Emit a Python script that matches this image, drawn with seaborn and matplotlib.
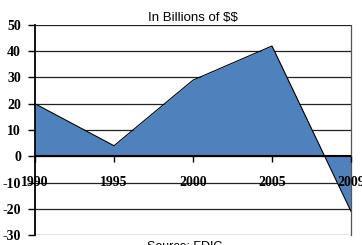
import matplotlib
matplotlib.use("Agg")
import matplotlib.pyplot as plt
import seaborn as sns
import pandas as pd

years = ["1990", "1995", "2000", "2005", "2009"]
values = [20, 4, 29, 42, -21]
y_ticks = [50, 40, 30, 20, 10, 0, -10, -20, -30]
title = "In Billions of $$"
source = "Source: FDIC"

sns.set_theme(style="white")
plt.rcParams['font.family'] = ['Liberation Sans', 'DejaVu Sans']
plt.rcParams['text.parse_math'] = False
plt.rcParams['text.color'] = 'black'
plt.rcParams['xtick.color'] = 'black'
plt.rcParams['ytick.color'] = 'black'

df = pd.DataFrame({"pos": range(len(years)), "value": values})

fig = plt.figure(figsize=(3.62, 2.45), dpi=100)
ax = fig.add_axes([35/362, (245-235)/245, (351-35)/362, (235-25)/245])

ax.fill_between(df["pos"], df["value"], 0, color="#4F81BD", linewidth=0, zorder=2)
sns.lineplot(data=df, x="pos", y="value", ax=ax, color="black", linewidth=0.8, zorder=3)

ax.spines["bottom"].set_position(("data", 0))
ax.spines["bottom"].set_visible(False)

ax.set_xlim(0, len(years) - 1)
ax.set_ylim(-30, 50)
ax.set_yticks(y_ticks)
ax.set_yticklabels([str(v) for v in y_ticks], family="Liberation Serif", fontweight="bold", fontsize=10)
for v in y_ticks:
    ax.axhline(v, color="#222222", linewidth=0.9, zorder=1)
ax.axhline(0, color="black", linewidth=1.5, zorder=4)

ax.set_xticks(list(df["pos"]))
ax.set_xticklabels(years, family="Liberation Serif", fontweight="bold", fontsize=10)
ax.tick_params(axis="x", direction="out", length=4, width=1, pad=10, color="black", bottom=True, labelcolor="black")
ax.tick_params(axis="y", direction="out", length=5, width=1, pad=5, color="black", left=True, labelcolor="black")
ax.xaxis.set_zorder(6)

ax.spines["left"].set_color("black")
ax.spines["left"].set_linewidth(1.3)
ax.spines["right"].set_color("#555555")
ax.spines["right"].set_linewidth(0.9)
ax.spines["top"].set_visible(False)
ax.set_xlabel("")
ax.set_ylabel("")
ax.set_title(title, fontsize=9.5, pad=3, family="Liberation Sans", color="black")

fig.text(185/362, 4/245, source, ha="center", va="top", fontsize=9, family="Liberation Sans", color="black")

fig.savefig("out.png", dpi=100)
